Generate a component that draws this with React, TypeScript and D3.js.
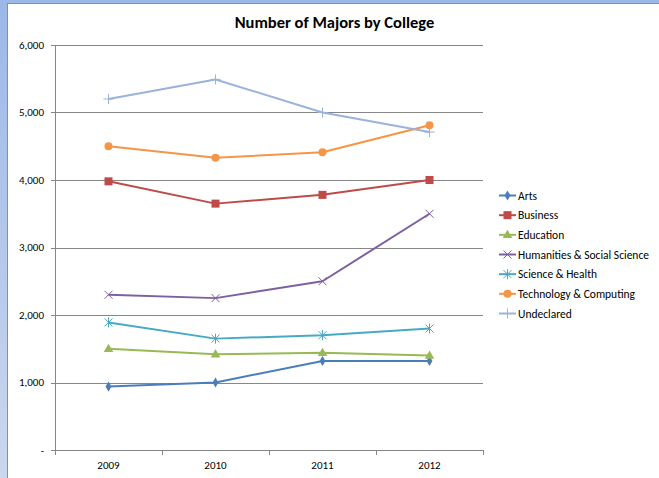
import React from 'react';
import * as d3 from 'd3';

const years = ['2009', '2010', '2011', '2012'];
const colleges = [
  'Arts',
  'Business',
  'Education',
  'Humanities & Social Science',
  'Science & Health',
  'Technology & Computing',
  'Undeclared',
];
const arts = [940, 1000, 1320, 1320];
const business = [3980, 3650, 3780, 4000];
const education = [1500, 1420, 1440, 1400];
const humanities = [2300, 2250, 2500, 3500];
const science = [1890, 1650, 1700, 1800];
const technology = [4500, 4330, 4410, 4810];
const undeclared = [5200, 5490, 5000, 4710];
const yTicks = [0, 1000, 2000, 3000, 4000, 5000, 6000];

const seriesValues = [arts, business, education, humanities, science, technology, undeclared];
const colors = ['#4A7EBB', '#BE4B48', '#98B954', '#7D60A0', '#46AAC5', '#F69546', '#9AB2DC'];
const shapes = ['diamond', 'square', 'triangle', 'x', 'star', 'circle', 'plus'];

const W = 659;
const H = 478;
const m = { left: 55, right: 483, top: 45, bottom: 450 };
const font = "Carlito, Calibri, 'Open Sans', sans-serif";

const Marker = ({ shape, x, y, color }: { shape: string; x: number; y: number; color: string }) => {
  if (shape === 'diamond') {
    return <path d={d3.symbol(d3.symbolDiamond, 30)()!} transform={`translate(${x},${y})`} fill={color} />;
  }
  if (shape === 'square') {
    return <rect x={x - 4} y={y - 4} width={8} height={8} fill={color} />;
  }
  if (shape === 'triangle') {
    return <path d={d3.symbol(d3.symbolTriangle, 40)()!} transform={`translate(${x},${y + 0.5})`} fill={color} />;
  }
  if (shape === 'circle') {
    return <circle cx={x} cy={y} r={4} fill={color} />;
  }
  const s = 4;
  const segs: [number, number, number, number][] = [];
  if (shape === 'x' || shape === 'star') {
    segs.push([-s, -s, s, s], [-s, s, s, -s]);
  }
  if (shape === 'star' || shape === 'plus') {
    segs.push([0, -s - 1, 0, s + 1]);
  }
  if (shape === 'plus') segs.push([-s - 1, 0, s + 1, 0]);
  return (
    <g transform={`translate(${x},${y})`} stroke={color} strokeWidth={1}>
      {segs.map((d, i) => (
        <line key={i} x1={d[0]} y1={d[1]} x2={d[2]} y2={d[3]} />
      ))}
    </g>
  );
};

export default function App() {
  const x = d3.scaleBand().domain(years).range([m.left, m.right]);
  const y = d3.scaleLinear().domain([0, 6000]).range([m.bottom, m.top]);
  const line = d3
    .line<number>()
    .x((_, i) => x(years[i])! + x.bandwidth() / 2)
    .y((d) => y(d));
  const fmt = (v: number) => (v === 0 ? '-' : d3.format(',')(v));
  const xEdges = [...years.map((d) => x(d)!), m.right];
  const legendY = d3.scaleLinear().domain([0, 6]).range([195.5, 313.5]);

  return (
    <svg width={W} height={H} style={{ position: 'absolute', left: 0, top: 0 }}>
      <defs>
        <linearGradient id="frame" x1="0" y1="0" x2="0" y2="1">
          <stop offset="0" stopColor="#9CB8E8" />
          <stop offset="1" stopColor="#CBD7EE" />
        </linearGradient>
      </defs>
      <rect width={W} height={H} fill="#fff" />
      <rect x={0} y={0} width={7} height={H} fill="url(#frame)" />
      <rect x={0} y={0} width={W} height={3} fill="#9CB8E8" />
      <line x1={7.5} y1={3} x2={7.5} y2={H} stroke="#8A8F99" />
      <line x1={7} y1={3.5} x2={W} y2={3.5} stroke="#8A8F99" />

      <text x={334.5} y={28} textAnchor="middle" fontFamily={font} fontSize={16.5} fontWeight="bold" fill="#000">
        Number of Majors by College
      </text>

      {yTicks.map((t) => (
        <g key={t}>
          {t > 0 && (
            <line x1={m.left} x2={m.right} y1={Math.round(y(t)) + 0.5} y2={Math.round(y(t)) + 0.5} stroke="#878787" />
          )}
          <line x1={51} x2={m.left} y1={Math.round(y(t)) + 0.5} y2={Math.round(y(t)) + 0.5} stroke="#878787" />
          <text x={44} y={y(t)} dy="0.35em" textAnchor="end" fontFamily={font} fontSize={11} fill="#000">
            {fmt(t)}
          </text>
        </g>
      ))}
      <line x1={m.left + 0.5} x2={m.left + 0.5} y1={m.top} y2={m.bottom} stroke="#878787" />
      <line x1={m.left} x2={m.right} y1={m.bottom + 0.5} y2={m.bottom + 0.5} stroke="#878787" />
      {xEdges.map((e, i) => (
        <line key={i} x1={Math.round(e) + 0.5} x2={Math.round(e) + 0.5} y1={m.bottom} y2={m.bottom + 5} stroke="#878787" />
      ))}
      {years.map((yr) => (
        <text key={yr} x={x(yr)! + x.bandwidth() / 2} y={469} textAnchor="middle" fontFamily={font} fontSize={11} fill="#000">
          {yr}
        </text>
      ))}

      {seriesValues.map((vals, si) => (
        <g key={colleges[si]}>
          <path d={line(vals)!} fill="none" stroke={colors[si]} strokeWidth={2} strokeLinejoin="round" />
          {vals.map((v, i) => (
            <Marker key={i} shape={shapes[si]} x={x(years[i])! + x.bandwidth() / 2} y={y(v)} color={colors[si]} />
          ))}
        </g>
      ))}

      {colleges.map((c, i) => (
        <g key={c}>
          <line x1={499} x2={516} y1={legendY(i)} y2={legendY(i)} stroke={colors[i]} strokeWidth={2} />
          <Marker shape={shapes[i]} x={507.5} y={legendY(i)} color={colors[i]} />
          <text x={518} y={legendY(i)} dy="0.35em" fontFamily={font} fontSize={11.5} fill="#000">
            {c}
          </text>
        </g>
      ))}
    </svg>
  );
}
